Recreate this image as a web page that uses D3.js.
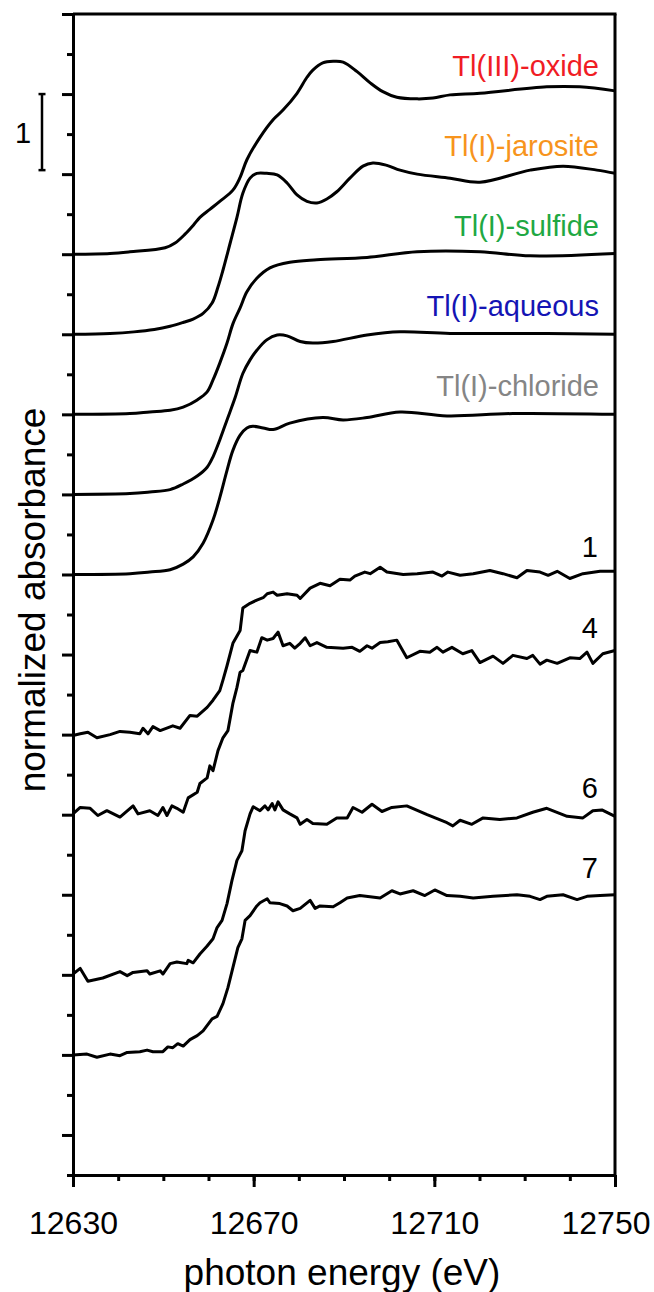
<!DOCTYPE html>
<html>
<head>
<meta charset="utf-8">
<script src="https://cdn.jsdelivr.net/npm/d3@7"></script>
<style>
  body { margin: 0; background: #fff; }
  svg { font-family: "Liberation Sans", Arial, sans-serif; }
</style>
</head>
<body>
<div id="chart"></div>
<script>
// tick labels / layout values
const energyTicks = [12630, 12670, 12710, 12750];
const energyMinor = [12630, 12640, 12650, 12660, 12670, 12680, 12690, 12700, 12710, 12720, 12730, 12740, 12750];

// reference spectra [energy eV, absorbance above baseline]
const oxide = [[12630,0],[12638.2,0.01],[12642.6,0.03],[12650.4,0.08],[12652.6,0.14],[12654.8,0.25],[12656.6,0.36],[12658.1,0.46],[12660.3,0.56],[12662.5,0.66],[12665.4,0.80],[12667.0,0.96],[12668.5,1.18],[12671.4,1.46],[12674.3,1.68],[12676.5,1.80],[12679.6,2.01],[12681.8,2.21],[12683.1,2.30],[12685.3,2.39],[12687.6,2.41],[12689.8,2.40],[12692.9,2.28],[12695.8,2.14],[12698.6,2.03],[12701.7,1.96],[12706.2,1.94],[12709.7,1.95],[12713.5,1.99],[12720.1,2.01],[12734.9,2.09],[12742.2,2.09],[12750,2.04]];
const jarosite = [[12630,0],[12638.2,0.01],[12643.5,0.03],[12648.0,0.06],[12651.5,0.10],[12654.5,0.15],[12656.6,0.19],[12658.8,0.26],[12660.8,0.39],[12662.1,0.59],[12663.2,0.80],[12664.8,1.14],[12666.3,1.46],[12667.6,1.76],[12669.2,1.95],[12670.7,2.01],[12672.9,2.01],[12675.2,1.99],[12677.4,1.89],[12679.6,1.74],[12681.8,1.66],[12684.0,1.64],[12686.2,1.69],[12688.4,1.78],[12691.3,1.95],[12694.2,2.10],[12696.4,2.14],[12699.5,2.11],[12702.4,2.05],[12706.2,2.00],[12713.5,1.95],[12720.1,1.90],[12731.2,2.05],[12738.5,2.10],[12746.0,2.05],[12750,2.01]];
const sulfide = [[12630,0],[12642.6,0.01],[12647.0,0.03],[12651.5,0.05],[12654.4,0.09],[12657.5,0.18],[12659.7,0.28],[12661.0,0.43],[12662.5,0.64],[12664.1,0.89],[12665.4,1.13],[12667.0,1.33],[12668.5,1.53],[12670.7,1.70],[12673.6,1.83],[12678.0,1.90],[12684.0,1.93],[12695.1,1.96],[12706.2,2.03],[12720.1,2.03],[12731.2,1.98],[12750,2.01]];
const aqueous = [[12630,0],[12642.6,0.01],[12647.0,0.03],[12651.5,0.06],[12654.4,0.13],[12657.5,0.23],[12659.7,0.34],[12661.0,0.47],[12662.5,0.68],[12664.1,0.93],[12665.9,1.21],[12667.6,1.51],[12669.2,1.68],[12670.7,1.80],[12672.9,1.93],[12675.2,1.99],[12677.4,1.98],[12680.3,1.91],[12683.1,1.89],[12687.6,1.91],[12695.1,1.99],[12702.4,2.03],[12713.5,2.01],[12734.9,2.01],[12750,2.00]];
const chloride = [[12630,0],[12642.6,0.01],[12647.0,0.03],[12651.5,0.06],[12654.4,0.13],[12656.6,0.22],[12658.8,0.39],[12661.0,0.68],[12662.5,0.96],[12664.1,1.30],[12665.4,1.55],[12667.0,1.74],[12668.5,1.83],[12669.8,1.85],[12672.1,1.83],[12674.3,1.81],[12678.0,1.89],[12685.3,1.96],[12689.8,1.93],[12695.1,1.96],[12702.4,2.03],[12712.8,1.98],[12727.4,2.01],[12750,2.00]];

// sample spectra
const sample1 = [[12630.0,-0.01],[12631.6,0.01],[12633.3,0.03],[12635.3,-0.04],[12638.2,0.00],[12640.4,0.04],[12642.6,0.03],[12644.8,0.01],[12645.5,0.08],[12646.6,0.01],[12647.7,0.10],[12649.3,0.05],[12652.1,0.11],[12653.7,0.08],[12655.9,0.24],[12657.5,0.23],[12659.7,0.34],[12661.0,0.43],[12662.5,0.55],[12663.2,0.68],[12664.1,0.86],[12665.4,1.14],[12667.0,1.30],[12667.6,1.58],[12669.2,1.64],[12670.7,1.68],[12672.1,1.71],[12673.0,1.76],[12674.3,1.78],[12675.2,1.74],[12677.4,1.76],[12679.6,1.74],[12680.3,1.70],[12682.5,1.83],[12684.7,1.89],[12686.9,1.86],[12689.1,1.94],[12691.3,1.93],[12692.4,1.98],[12694.6,2.03],[12695.8,2.01],[12698.0,2.09],[12699.5,2.03],[12703.1,2.00],[12706.2,2.01],[12709.7,2.03],[12711.7,1.98],[12713.0,2.03],[12715.7,1.99],[12718.6,2.01],[12722.3,2.05],[12725.2,2.01],[12728.3,1.96],[12730.5,2.05],[12733.4,2.03],[12735.2,1.99],[12737.2,2.04],[12740.0,1.95],[12742.9,2.01],[12746.7,2.04],[12750.0,2.04]];
const sample4 = [[12630.0,0.01],[12631.6,0.09],[12633.8,0.08],[12635.5,-0.01],[12637.5,0.05],[12640.4,-0.03],[12643.3,0.11],[12644.4,0.01],[12647.0,0.05],[12648.8,-0.01],[12649.9,0.09],[12650.8,-0.01],[12651.9,0.11],[12653.0,0.08],[12654.4,0.03],[12655.5,0.21],[12657.5,0.28],[12658.1,0.39],[12659.7,0.46],[12660.3,0.61],[12661.0,0.55],[12662.1,0.80],[12663.2,0.96],[12664.3,1.05],[12665.4,1.39],[12666.3,1.59],[12667.0,1.78],[12667.6,1.80],[12669.2,2.05],[12670.7,2.03],[12671.8,2.21],[12673.0,2.18],[12674.3,2.20],[12675.4,2.28],[12676.5,2.11],[12678.0,2.14],[12679.1,2.08],[12680.3,2.14],[12681.4,2.21],[12682.5,2.11],[12684.0,2.15],[12686.2,2.09],[12689.8,2.08],[12691.8,2.09],[12693.5,2.04],[12695.1,2.11],[12696.2,2.08],[12698.0,2.15],[12699.7,2.16],[12701.7,2.18],[12703.9,1.96],[12706.8,2.04],[12709.0,2.03],[12710.6,2.09],[12711.9,2.03],[12713.9,2.09],[12716.3,2.01],[12718.3,2.05],[12720.1,1.90],[12723.0,1.98],[12725.2,1.89],[12727.4,1.99],[12730.5,1.95],[12731.8,1.99],[12733.4,1.88],[12734.9,1.93],[12737.2,1.89],[12740.0,1.96],[12742.2,1.95],[12743.8,2.03],[12745.1,1.89],[12747.3,2.01],[12750.0,2.05]];
const sample6 = [[12630.0,0.01],[12631.6,0.08],[12633.3,-0.08],[12636.6,-0.04],[12640.4,0.04],[12642.0,-0.01],[12643.3,0.03],[12646.4,0.05],[12647.0,0.01],[12649.3,0.05],[12649.9,0.01],[12651.5,0.14],[12653.0,0.16],[12655.2,0.14],[12655.5,0.18],[12656.6,0.15],[12658.1,0.26],[12659.7,0.36],[12661.0,0.45],[12661.9,0.59],[12663.0,0.68],[12664.1,0.89],[12665.2,1.18],[12666.3,1.43],[12667.4,1.55],[12668.1,1.80],[12669.2,2.01],[12669.9,2.10],[12671.4,2.05],[12672.5,2.11],[12673.2,2.06],[12674.1,2.14],[12674.7,2.06],[12675.4,2.16],[12676.5,2.06],[12678.0,2.01],[12679.6,1.96],[12680.3,1.88],[12681.8,1.94],[12683.1,1.89],[12686.2,1.88],[12688.4,1.96],[12690.7,1.96],[12692.0,2.09],[12694.0,2.03],[12696.2,2.13],[12698.4,2.04],[12700.6,2.09],[12703.9,2.11],[12708.4,2.00],[12712.8,1.90],[12714.1,1.86],[12715.7,1.93],[12718.3,1.88],[12720.8,1.96],[12724.5,1.94],[12728.3,1.96],[12731.8,2.03],[12734.9,2.08],[12739.4,1.98],[12742.9,1.96],[12745.1,2.05],[12747.1,2.06],[12750.0,1.98]];
const sample7 = [[12630.0,0.00],[12633.1,0.01],[12635.3,-0.03],[12638.2,0.01],[12640.4,-0.01],[12642.0,0.03],[12644.8,0.04],[12646.4,0.06],[12647.7,0.04],[12649.9,0.04],[12651.0,0.10],[12652.1,0.09],[12653.2,0.14],[12654.4,0.11],[12655.9,0.19],[12657.5,0.24],[12658.8,0.30],[12660.8,0.45],[12661.9,0.48],[12663.2,0.64],[12664.3,0.84],[12665.4,1.09],[12666.5,1.34],[12667.4,1.45],[12668.1,1.68],[12669.2,1.74],[12670.7,1.86],[12671.4,1.90],[12673.0,1.95],[12673.6,1.90],[12675.8,1.89],[12677.4,1.86],[12678.7,1.80],[12680.3,1.83],[12682.5,1.93],[12683.6,1.83],[12684.7,1.86],[12687.6,1.85],[12689.1,1.90],[12690.7,1.96],[12693.5,1.99],[12698.0,1.96],[12700.6,2.05],[12702.4,2.01],[12705.3,2.05],[12707.9,1.99],[12710.1,2.06],[12712.8,1.99],[12715.7,1.98],[12718.6,1.96],[12723.0,1.98],[12728.3,2.00],[12731.2,1.98],[12733.4,1.94],[12734.9,1.98],[12738.5,2.00],[12741.6,1.94],[12743.8,1.98],[12746.7,1.99],[12750.0,2.00]];

const refNames = ["Tl(III)-oxide", "Tl(I)-jarosite", "Tl(I)-sulfide", "Tl(I)-aqueous", "Tl(I)-chloride"];
const refColors = ["#f01c24", "#f7941d", "#1fa843", "#1414b4", "#858585"];
const refOffsets = [11, 10, 9, 8, 7];
const refData = [oxide, jarosite, sulfide, aqueous, chloride];

const sampleNames = ["1", "4", "6", "7"];
const sampleOffsets = [5, 4, 2, 1];
const sampleData = [sample1, sample4, sample6, sample7];

const W = 654, H = 1292;
const svg = d3.select("#chart").append("svg")
  .attr("width", W).attr("height", H);

const x = d3.scaleLinear().domain([12630, 12750]).range([73, 615]);
const y = d3.scaleLinear().domain([-0.5, 14]).range([1175, 14]);

// axes: minor + major ticks
svg.append("g").attr("transform", `translate(0,${y(-0.5)})`)
  .call(d3.axisBottom(x).tickValues(energyMinor).tickSize(6).tickSizeOuter(0).tickFormat(""));
const xMajor = svg.append("g").attr("transform", `translate(0,${y(-0.5)})`)
  .call(d3.axisBottom(x).tickValues(energyTicks).tickSize(12).tickSizeOuter(0).tickFormat(d3.format("d")));
xMajor.selectAll("text")
  .attr("y", 36).attr("dy", "0.71em")
  .style("font-size", "32px").attr("fill", "#000");
// last label kept inside the picture
xMajor.selectAll("text").filter(d => d === 12750)
  .attr("text-anchor", "end").attr("x", 35);

const yMinorVals = d3.range(-0.5, 14, 1);
const yMajorVals = d3.range(0, 15, 1);
svg.append("g").attr("transform", `translate(${x(12630)},0)`)
  .call(d3.axisLeft(y).tickValues(yMinorVals).tickSize(6).tickSizeOuter(0).tickFormat(""));
svg.append("g").attr("transform", `translate(${x(12630)},0)`)
  .call(d3.axisLeft(y).tickValues(yMajorVals).tickSize(11).tickSizeOuter(0).tickFormat(""));

svg.selectAll(".domain, .tick line").attr("stroke", "#000").attr("stroke-width", 3);

// frame on top and right
svg.append("line").attr("x1", x(12630)).attr("x2", x(12750) + 1.5)
  .attr("y1", y(14)).attr("y2", y(14)).attr("stroke", "#000").attr("stroke-width", 3);
svg.append("line").attr("x1", x(12750)).attr("x2", x(12750))
  .attr("y1", y(14)).attr("y2", y(-0.5)).attr("stroke", "#000").attr("stroke-width", 3);

// axis titles
svg.append("text")
  .attr("x", (x(12630) + x(12750)) / 2 - 2)
  .attr("y", 1285)
  .attr("text-anchor", "middle")
  .style("font-size", "37px")
  .text("photon energy (eV)");

svg.append("text")
  .attr("transform", "rotate(-90)")
  .attr("x", -600)
  .attr("y", 45)
  .attr("text-anchor", "middle")
  .style("font-size", "37px")
  .text("normalized absorbance");

// scale bar
const barX = 42;
const bar = svg.append("g").attr("stroke", "#000").attr("stroke-width", 2.5);
bar.append("line").attr("x1", barX).attr("x2", barX).attr("y1", y(13)).attr("y2", y(12.05));
bar.append("line").attr("x1", barX - 3.5).attr("x2", barX + 3.5).attr("y1", y(13)).attr("y2", y(13));
bar.append("line").attr("x1", barX - 3.5).attr("x2", barX + 3.5).attr("y1", y(12.05)).attr("y2", y(12.05));
svg.append("text").attr("x", 23).attr("y", 143).attr("text-anchor", "middle")
  .style("font-size", "29px").text("1");

// spectra
const smooth = (off) => d3.line()
  .x(d => x(d[0])).y(d => y(off + d[1]))
  .curve(d3.curveCatmullRom.alpha(0.5));
const rough = (off) => d3.line()
  .x(d => x(d[0])).y(d => y(off + d[1]));

refData.forEach((data, i) => {
  svg.append("path")
    .datum(data)
    .attr("d", smooth(refOffsets[i]))
    .attr("fill", "none")
    .attr("stroke", "#000")
    .attr("stroke-width", 3)
    .attr("stroke-linejoin", "round");

  svg.append("text")
    .attr("x", 599)
    .attr("y", y(refOffsets[i] + 2) - 18)
    .attr("text-anchor", "end")
    .attr("fill", refColors[i])
    .style("font-size", "29px")
    .text(refNames[i]);
});

sampleData.forEach((data, i) => {
  svg.append("path")
    .datum(data)
    .attr("d", rough(sampleOffsets[i]))
    .attr("fill", "none")
    .attr("stroke", "#000")
    .attr("stroke-width", 3)
    .attr("stroke-linejoin", "round");

  svg.append("text")
    .attr("x", 598)
    .attr("y", y(sampleOffsets[i] + 2) - 17)
    .attr("text-anchor", "end")
    .attr("fill", "#000")
    .style("font-size", "29px")
    .text(sampleNames[i]);
});
</script>
</body>
</html>
